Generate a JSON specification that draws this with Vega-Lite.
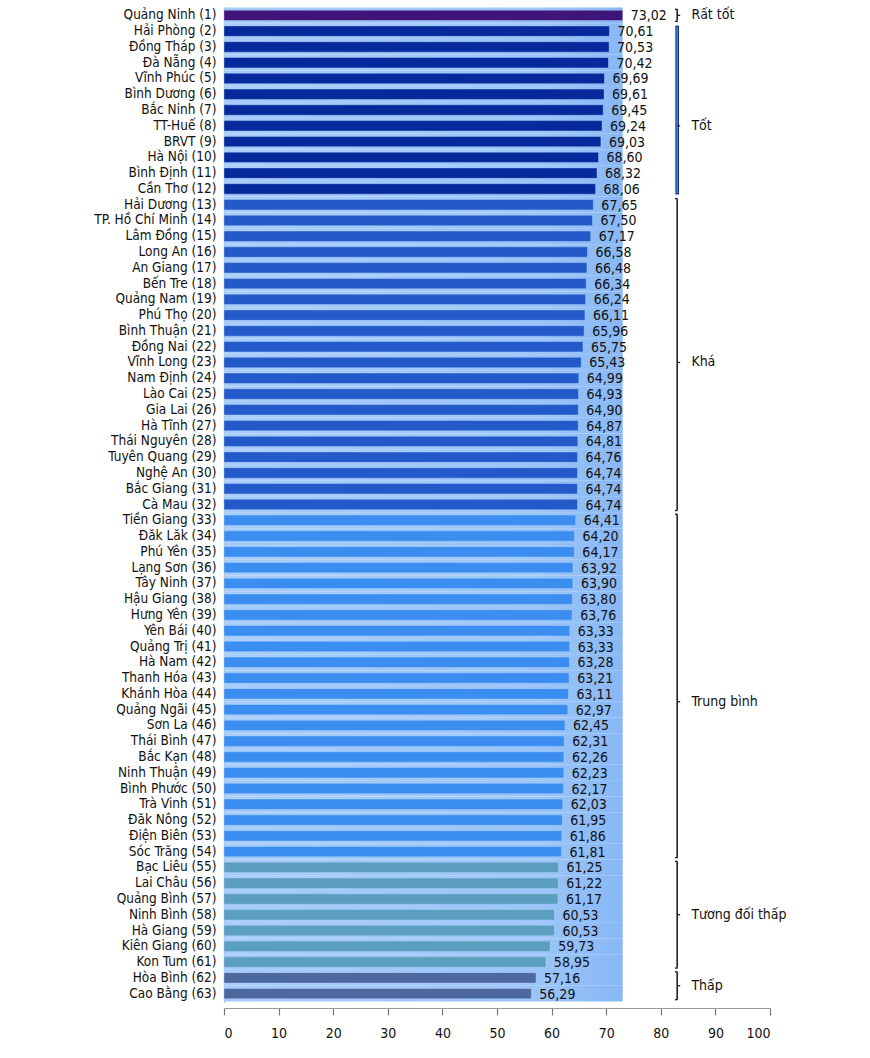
{
  "$schema": "https://vega.github.io/schema/vega-lite/v6.json",
  "autosize": {"type": "none"},
  "width": 546,
  "height": 995,
  "padding": {"left": 224, "top": 7, "right": 100, "bottom": 56},
  "background": "white",
  "config": {
    "locale": {"number": {"decimal": ",", "thousands": ".", "grouping": [3], "currency": ["", ""]}},
    "font": "DejaVu Sans Condensed, Liberation Sans Narrow, sans-serif",
    "view": {"stroke": null},
    "axisX": {"tickCount": 20, "labelOverlap": false}
  },
  "datasets": {
    "prov": [
      {"label": "Quảng Ninh (1)", "value": 73.02, "cat": "Rất tốt"},
      {"label": "Hải Phòng (2)", "value": 70.61, "cat": "Tốt"},
      {"label": "Đồng Tháp (3)", "value": 70.53, "cat": "Tốt"},
      {"label": "Đà Nẵng (4)", "value": 70.42, "cat": "Tốt"},
      {"label": "Vĩnh Phúc (5)", "value": 69.69, "cat": "Tốt"},
      {"label": "Bình Dương (6)", "value": 69.61, "cat": "Tốt"},
      {"label": "Bắc Ninh (7)", "value": 69.45, "cat": "Tốt"},
      {"label": "TT-Huế (8)", "value": 69.24, "cat": "Tốt"},
      {"label": "BRVT (9)", "value": 69.03, "cat": "Tốt"},
      {"label": "Hà Nội (10)", "value": 68.60, "cat": "Tốt"},
      {"label": "Bình Định (11)", "value": 68.32, "cat": "Tốt"},
      {"label": "Cần Thơ (12)", "value": 68.06, "cat": "Tốt"},
      {"label": "Hải Dương (13)", "value": 67.65, "cat": "Khá"},
      {"label": "TP. Hồ Chí Minh (14)", "value": 67.50, "cat": "Khá"},
      {"label": "Lâm Đồng (15)", "value": 67.17, "cat": "Khá"},
      {"label": "Long An (16)", "value": 66.58, "cat": "Khá"},
      {"label": "An Giang (17)", "value": 66.48, "cat": "Khá"},
      {"label": "Bến Tre (18)", "value": 66.34, "cat": "Khá"},
      {"label": "Quảng Nam (19)", "value": 66.24, "cat": "Khá"},
      {"label": "Phú Thọ (20)", "value": 66.11, "cat": "Khá"},
      {"label": "Bình Thuận (21)", "value": 65.96, "cat": "Khá"},
      {"label": "Đồng Nai (22)", "value": 65.75, "cat": "Khá"},
      {"label": "Vĩnh Long (23)", "value": 65.43, "cat": "Khá"},
      {"label": "Nam Định (24)", "value": 64.99, "cat": "Khá"},
      {"label": "Lào Cai (25)", "value": 64.93, "cat": "Khá"},
      {"label": "Gia Lai (26)", "value": 64.90, "cat": "Khá"},
      {"label": "Hà Tĩnh (27)", "value": 64.87, "cat": "Khá"},
      {"label": "Thái Nguyên (28)", "value": 64.81, "cat": "Khá"},
      {"label": "Tuyên Quang (29)", "value": 64.76, "cat": "Khá"},
      {"label": "Nghệ An (30)", "value": 64.74, "cat": "Khá"},
      {"label": "Bắc Giang (31)", "value": 64.74, "cat": "Khá"},
      {"label": "Cà Mau (32)", "value": 64.74, "cat": "Khá"},
      {"label": "Tiền Giang (33)", "value": 64.41, "cat": "Trung bình"},
      {"label": "Đăk Lăk (34)", "value": 64.20, "cat": "Trung bình"},
      {"label": "Phú Yên (35)", "value": 64.17, "cat": "Trung bình"},
      {"label": "Lạng Sơn (36)", "value": 63.92, "cat": "Trung bình"},
      {"label": "Tây Ninh (37)", "value": 63.90, "cat": "Trung bình"},
      {"label": "Hậu Giang (38)", "value": 63.80, "cat": "Trung bình"},
      {"label": "Hưng Yên (39)", "value": 63.76, "cat": "Trung bình"},
      {"label": "Yên Bái (40)", "value": 63.33, "cat": "Trung bình"},
      {"label": "Quảng Trị (41)", "value": 63.33, "cat": "Trung bình"},
      {"label": "Hà Nam (42)", "value": 63.28, "cat": "Trung bình"},
      {"label": "Thanh Hóa (43)", "value": 63.21, "cat": "Trung bình"},
      {"label": "Khánh Hòa (44)", "value": 63.11, "cat": "Trung bình"},
      {"label": "Quảng Ngãi (45)", "value": 62.97, "cat": "Trung bình"},
      {"label": "Sơn La (46)", "value": 62.45, "cat": "Trung bình"},
      {"label": "Thái Bình (47)", "value": 62.31, "cat": "Trung bình"},
      {"label": "Bắc Kạn (48)", "value": 62.26, "cat": "Trung bình"},
      {"label": "Ninh Thuận (49)", "value": 62.23, "cat": "Trung bình"},
      {"label": "Bình Phước (50)", "value": 62.17, "cat": "Trung bình"},
      {"label": "Trà Vinh (51)", "value": 62.03, "cat": "Trung bình"},
      {"label": "Đăk Nông (52)", "value": 61.95, "cat": "Trung bình"},
      {"label": "Điện Biên (53)", "value": 61.86, "cat": "Trung bình"},
      {"label": "Sóc Trăng (54)", "value": 61.81, "cat": "Trung bình"},
      {"label": "Bạc Liêu (55)", "value": 61.25, "cat": "Tương đối thấp"},
      {"label": "Lai Châu (56)", "value": 61.22, "cat": "Tương đối thấp"},
      {"label": "Quảng Bình (57)", "value": 61.17, "cat": "Tương đối thấp"},
      {"label": "Ninh Bình (58)", "value": 60.53, "cat": "Tương đối thấp"},
      {"label": "Hà Giang (59)", "value": 60.53, "cat": "Tương đối thấp"},
      {"label": "Kiên Giang (60)", "value": 59.73, "cat": "Tương đối thấp"},
      {"label": "Kon Tum (61)", "value": 58.95, "cat": "Tương đối thấp"},
      {"label": "Hòa Bình (62)", "value": 57.16, "cat": "Thấp"},
      {"label": "Cao Bằng (63)", "value": 56.29, "cat": "Thấp"}
    ],
    "brackets": [
      {"cat": "Rất tốt", "first": "Quảng Ninh (1)", "last": "Quảng Ninh (1)"},
      {"cat": "Khá", "first": "Hải Dương (13)", "last": "Cà Mau (32)"},
      {"cat": "Trung bình", "first": "Tiền Giang (33)", "last": "Sóc Trăng (54)"},
      {"cat": "Tương đối thấp", "first": "Bạc Liêu (55)", "last": "Kon Tum (61)"},
      {"cat": "Thấp", "first": "Hòa Bình (62)", "last": "Cao Bằng (63)"}
    ],
    "bracketTot": [
      {"cat": "Tốt", "first": "Hải Phòng (2)", "last": "Cần Thơ (12)"}
    ],
    "labelsCenter": [
      {"text": "Rất tốt", "at": "Quảng Ninh (1)"},
      {"text": "Tốt", "at": "TT-Huế (8)"},
      {"text": "Khá", "at": "Vĩnh Long (23)"},
      {"text": "Tương đối thấp", "at": "Ninh Bình (58)"}
    ],
    "labelsEdge": [
      {"text": "Trung bình", "at": "Khánh Hòa (44)"},
      {"text": "Thấp", "at": "Hòa Bình (62)"}
    ]
  },
  "data": {"name": "prov"},
  "layer": [
    {
      "transform": [{"joinaggregate": [{"op": "max", "field": "value", "as": "maxv"}]}],
      "mark": {
        "type": "bar",
        "height": {"band": 1.52},
        "fill": {
          "gradient": "linear",
          "x1": 0, "y1": 0, "x2": 1, "y2": 0,
          "stops": [
            {"offset": 0, "color": "#a8cdfa"},
            {"offset": 0.8, "color": "#9bc5f9"},
            {"offset": 1, "color": "#88b7f5"}
          ]
        }
      },
      "encoding": {
        "y": {
          "field": "label",
          "type": "nominal",
          "sort": null,
          "scale": {"paddingInner": 0.34, "paddingOuter": 0.2},
          "axis": {
            "title": null,
            "ticks": false,
            "labelPadding": 8,
            "labelFontSize": 13.5,
            "labelColor": "#111",
            "domainColor": "#9a9a9a",
            "domainWidth": 1.2
          }
        },
        "x": {
          "field": "maxv",
          "type": "quantitative",
          "scale": {"domain": [0, 100], "nice": false, "zero": true},
          "axis": {"title": null, "values": [0, 5, 10, 15, 20, 25, 30, 35, 40, 45, 50, 55, 60, 65, 70, 75, 80, 85, 90, 95, 100], "tickCount": 20, "grid": false, "offset": 6, "domainColor": "#9a9a9a", "domainWidth": 1.2, "tickColor": "#777", "tickSize": 7, "tickWidth": 1.2, "labelPadding": 11, "labelFontSize": 14, "labelOverlap": false, "labelColor": "#111", "format": "d"}
        }
      }
    },
    {
      "mark": {"type": "bar", "stroke": "#b8d6fb", "strokeWidth": 0.6, "strokeOpacity": 0.7},
      "encoding": {
        "y": {"field": "label", "type": "nominal", "sort": null},
        "x": {
          "field": "value",
          "type": "quantitative",
          "axis": {"title": null, "values": [0, 5, 10, 15, 20, 25, 30, 35, 40, 45, 50, 55, 60, 65, 70, 75, 80, 85, 90, 95, 100], "tickCount": 20, "grid": false, "offset": 6, "domainColor": "#9a9a9a", "domainWidth": 1.2, "tickColor": "#777", "tickSize": 7, "tickWidth": 1.2, "labelPadding": 11, "labelFontSize": 14, "labelOverlap": false, "labelColor": "#111", "format": "d"}
        },
        "color": {
          "field": "cat",
          "type": "nominal",
          "legend": null,
          "scale": {
            "domain": ["Rất tốt", "Tốt", "Khá", "Trung bình", "Tương đối thấp", "Thấp"],
            "range": ["#40157a", "#06299b", "#2359c9", "#3b8ef0", "#5b9ebe", "#4d689e"]
          }
        }
      }
    },
    {
      "mark": {"type": "text", "align": "left", "baseline": "middle", "dx": 8, "dy": 1, "fontSize": 14, "color": "#111"},
      "encoding": {
        "y": {"field": "label", "type": "nominal", "sort": null},
        "x": {
          "field": "value",
          "type": "quantitative",
          "axis": {"title": null, "values": [0, 5, 10, 15, 20, 25, 30, 35, 40, 45, 50, 55, 60, 65, 70, 75, 80, 85, 90, 95, 100], "tickCount": 20, "grid": false, "offset": 6, "domainColor": "#9a9a9a", "domainWidth": 1.2, "tickColor": "#777", "tickSize": 7, "tickWidth": 1.2, "labelPadding": 11, "labelFontSize": 14, "labelOverlap": false, "labelColor": "#111", "format": "d"}
        },
        "text": {"field": "value", "type": "quantitative", "format": ".2f"}
      }
    },
    {
      "data": {"name": "brackets"},
      "mark": {"type": "rule", "color": "#222", "strokeWidth": 1.6, "yOffset": -5.5, "y2Offset": 5.5},
      "encoding": {
        "x": {"datum": 83, "type": "quantitative", "axis": {"title": null, "values": [0, 5, 10, 15, 20, 25, 30, 35, 40, 45, 50, 55, 60, 65, 70, 75, 80, 85, 90, 95, 100], "tickCount": 20, "grid": false, "offset": 6, "domainColor": "#9a9a9a", "domainWidth": 1.2, "tickColor": "#777", "tickSize": 7, "tickWidth": 1.2, "labelPadding": 11, "labelFontSize": 14, "labelOverlap": false, "labelColor": "#111", "format": "d"}},
        "y": {"field": "first", "type": "nominal", "sort": null},
        "y2": {"field": "last"}
      }
    },
    {
      "data": {"name": "brackets"},
      "mark": {"type": "rule", "color": "#222", "strokeWidth": 1.4, "yOffset": -6},
      "encoding": {
        "x": {"datum": 82.6, "type": "quantitative", "axis": {"title": null, "values": [0, 5, 10, 15, 20, 25, 30, 35, 40, 45, 50, 55, 60, 65, 70, 75, 80, 85, 90, 95, 100], "tickCount": 20, "grid": false, "offset": 6, "domainColor": "#9a9a9a", "domainWidth": 1.2, "tickColor": "#777", "tickSize": 7, "tickWidth": 1.2, "labelPadding": 11, "labelFontSize": 14, "labelOverlap": false, "labelColor": "#111", "format": "d"}},
        "x2": {"datum": 83.1},
        "y": {"field": "first", "type": "nominal", "sort": null}
      }
    },
    {
      "data": {"name": "brackets"},
      "mark": {"type": "rule", "color": "#222", "strokeWidth": 1.4, "yOffset": 6},
      "encoding": {
        "x": {"datum": 82.6, "type": "quantitative", "axis": {"title": null, "values": [0, 5, 10, 15, 20, 25, 30, 35, 40, 45, 50, 55, 60, 65, 70, 75, 80, 85, 90, 95, 100], "tickCount": 20, "grid": false, "offset": 6, "domainColor": "#9a9a9a", "domainWidth": 1.2, "tickColor": "#777", "tickSize": 7, "tickWidth": 1.2, "labelPadding": 11, "labelFontSize": 14, "labelOverlap": false, "labelColor": "#111", "format": "d"}},
        "x2": {"datum": 83.1},
        "y": {"field": "last", "type": "nominal", "sort": null}
      }
    },
    {
      "data": {"name": "bracketTot"},
      "mark": {"type": "rule", "color": "#0d2a6e", "strokeWidth": 3.6, "yOffset": -5.5, "y2Offset": 5.5},
      "encoding": {
        "x": {"datum": 83, "type": "quantitative", "axis": {"title": null, "values": [0, 5, 10, 15, 20, 25, 30, 35, 40, 45, 50, 55, 60, 65, 70, 75, 80, 85, 90, 95, 100], "tickCount": 20, "grid": false, "offset": 6, "domainColor": "#9a9a9a", "domainWidth": 1.2, "tickColor": "#777", "tickSize": 7, "tickWidth": 1.2, "labelPadding": 11, "labelFontSize": 14, "labelOverlap": false, "labelColor": "#111", "format": "d"}},
        "y": {"field": "first", "type": "nominal", "sort": null},
        "y2": {"field": "last"}
      }
    },
    {
      "data": {"name": "bracketTot"},
      "mark": {"type": "rule", "color": "#3f7ee6", "strokeWidth": 1.8, "yOffset": -4.5, "y2Offset": 4.5},
      "encoding": {
        "x": {"datum": 83, "type": "quantitative", "axis": {"title": null, "values": [0, 5, 10, 15, 20, 25, 30, 35, 40, 45, 50, 55, 60, 65, 70, 75, 80, 85, 90, 95, 100], "tickCount": 20, "grid": false, "offset": 6, "domainColor": "#9a9a9a", "domainWidth": 1.2, "tickColor": "#777", "tickSize": 7, "tickWidth": 1.2, "labelPadding": 11, "labelFontSize": 14, "labelOverlap": false, "labelColor": "#111", "format": "d"}},
        "y": {"field": "first", "type": "nominal", "sort": null},
        "y2": {"field": "last"}
      }
    },
    {
      "data": {"name": "labelsCenter"},
      "mark": {"type": "rule", "color": "#222", "strokeWidth": 1.3},
      "encoding": {
        "x": {"datum": 83, "type": "quantitative", "axis": {"title": null, "values": [0, 5, 10, 15, 20, 25, 30, 35, 40, 45, 50, 55, 60, 65, 70, 75, 80, 85, 90, 95, 100], "tickCount": 20, "grid": false, "offset": 6, "domainColor": "#9a9a9a", "domainWidth": 1.2, "tickColor": "#777", "tickSize": 7, "tickWidth": 1.2, "labelPadding": 11, "labelFontSize": 14, "labelOverlap": false, "labelColor": "#111", "format": "d"}},
        "x2": {"datum": 83.55},
        "y": {"field": "at", "type": "nominal", "sort": null}
      }
    },
    {
      "data": {"name": "labelsEdge"},
      "mark": {"type": "rule", "color": "#222", "strokeWidth": 1.3, "yOffset": 7.9},
      "encoding": {
        "x": {"datum": 83, "type": "quantitative", "axis": {"title": null, "values": [0, 5, 10, 15, 20, 25, 30, 35, 40, 45, 50, 55, 60, 65, 70, 75, 80, 85, 90, 95, 100], "tickCount": 20, "grid": false, "offset": 6, "domainColor": "#9a9a9a", "domainWidth": 1.2, "tickColor": "#777", "tickSize": 7, "tickWidth": 1.2, "labelPadding": 11, "labelFontSize": 14, "labelOverlap": false, "labelColor": "#111", "format": "d"}},
        "x2": {"datum": 83.55},
        "y": {"field": "at", "type": "nominal", "sort": null}
      }
    },
    {
      "data": {"name": "labelsCenter"},
      "mark": {"type": "text", "align": "left", "baseline": "middle", "fontSize": 14, "color": "#111"},
      "encoding": {
        "x": {"datum": 85.6, "type": "quantitative", "axis": {"title": null, "values": [0, 5, 10, 15, 20, 25, 30, 35, 40, 45, 50, 55, 60, 65, 70, 75, 80, 85, 90, 95, 100], "tickCount": 20, "grid": false, "offset": 6, "domainColor": "#9a9a9a", "domainWidth": 1.2, "tickColor": "#777", "tickSize": 7, "tickWidth": 1.2, "labelPadding": 11, "labelFontSize": 14, "labelOverlap": false, "labelColor": "#111", "format": "d"}},
        "y": {"field": "at", "type": "nominal", "sort": null},
        "text": {"field": "text"}
      }
    },
    {
      "data": {"name": "labelsEdge"},
      "mark": {"type": "text", "align": "left", "baseline": "middle", "fontSize": 14, "color": "#111", "yOffset": 7.9},
      "encoding": {
        "x": {"datum": 85.6, "type": "quantitative", "axis": {"title": null, "values": [0, 5, 10, 15, 20, 25, 30, 35, 40, 45, 50, 55, 60, 65, 70, 75, 80, 85, 90, 95, 100], "tickCount": 20, "grid": false, "offset": 6, "domainColor": "#9a9a9a", "domainWidth": 1.2, "tickColor": "#777", "tickSize": 7, "tickWidth": 1.2, "labelPadding": 11, "labelFontSize": 14, "labelOverlap": false, "labelColor": "#111", "format": "d"}},
        "y": {"field": "at", "type": "nominal", "sort": null},
        "text": {"field": "text"}
      }
    }
  ]
}
